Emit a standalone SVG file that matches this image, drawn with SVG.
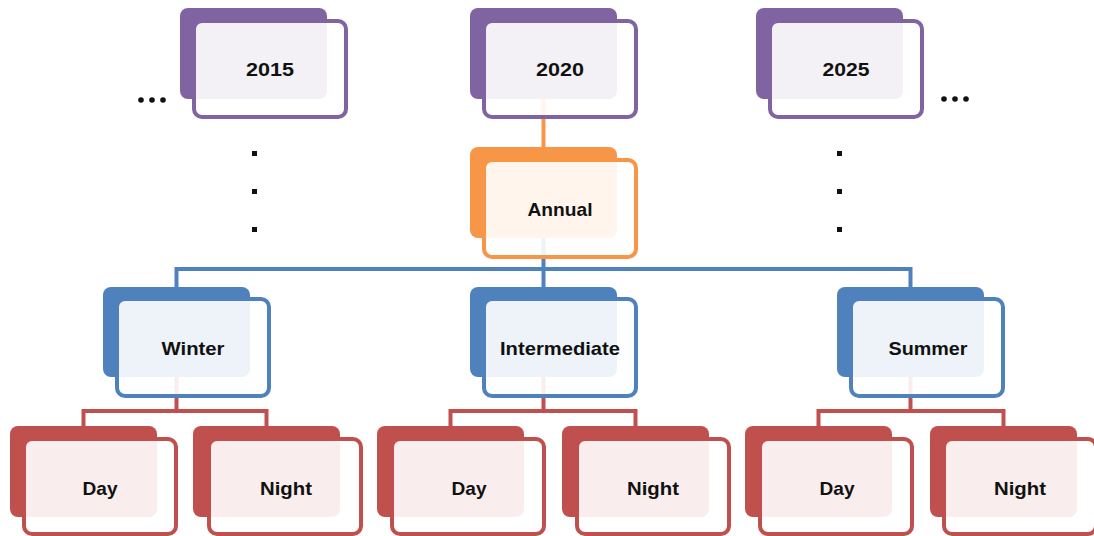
<svg xmlns="http://www.w3.org/2000/svg" width="1094" height="536" viewBox="0 0 1094 536">
<style>
.bk{stroke:none}
.fr{fill:#ffffff;fill-opacity:0.9;stroke-width:4}
.lbl{font-family:"Liberation Sans",Arial,sans-serif;font-weight:bold;font-size:19px;fill:#111111;text-anchor:middle}
.p .bk{fill:#8064a2}.p .fr{stroke:#8064a2}
.o .bk{fill:#f79646}.o .fr{stroke:#f79646}
.b .bk{fill:#4f81bd}.b .fr{stroke:#4f81bd}
.r .bk{fill:#c0504d}.r .fr{stroke:#c0504d}
.cn{fill:none;stroke-width:4}
.dot{fill:#111111}
</style>
<rect width="1094" height="536" fill="#ffffff"/>
<g id="connectors">
<path class="cn" stroke="#f79646" d="M543.5,53 V147"/>
<path class="cn" stroke="#4f81bd" d="M543.5,192 V269 M176.5,287 V269 H910.5 V287 M543.5,269 V287"/>
<path class="cn" stroke="#c0504d" d="M176.5,332 V411 M83.5,426 V411 H266.5 V426"/>
<path class="cn" stroke="#c0504d" d="M543.5,332 V411 M450.5,426 V411 H635.5 V426"/>
<path class="cn" stroke="#c0504d" d="M910.5,332 V411 M818.5,426 V411 H1003.5 V426"/>
</g>
<g id="n2015" class="p"><rect class="bk" x="180" y="8" width="147" height="91" rx="8"/><rect class="fr" x="194" y="21" width="152" height="96" rx="8"/><text class="lbl" x="270" y="76" textLength="48" lengthAdjust="spacingAndGlyphs">2015</text></g>
<g id="n2020" class="p"><rect class="bk" x="470" y="8" width="147" height="91" rx="8"/><rect class="fr" x="484" y="21" width="152" height="96" rx="8"/><text class="lbl" x="560" y="76" textLength="48" lengthAdjust="spacingAndGlyphs">2020</text></g>
<g id="n2025" class="p"><rect class="bk" x="756" y="8" width="147" height="91" rx="8"/><rect class="fr" x="770" y="21" width="152" height="96" rx="8"/><text class="lbl" x="846" y="76" textLength="47" lengthAdjust="spacingAndGlyphs">2025</text></g>
<g id="annual" class="o"><rect class="bk" x="470" y="147" width="147" height="91" rx="8"/><rect class="fr" x="484" y="160" width="152" height="97" rx="8"/><text class="lbl" x="560" y="216" textLength="65" lengthAdjust="spacingAndGlyphs">Annual</text></g>
<g id="winter" class="b"><rect class="bk" x="103" y="287" width="147" height="90" rx="8"/><rect class="fr" x="117" y="299" width="152" height="97" rx="8"/><text class="lbl" x="193" y="355" textLength="63" lengthAdjust="spacingAndGlyphs">Winter</text></g>
<g id="intermediate" class="b"><rect class="bk" x="470" y="287" width="147" height="90" rx="8"/><rect class="fr" x="484" y="299" width="152" height="97" rx="8"/><text class="lbl" x="560" y="355" textLength="120" lengthAdjust="spacingAndGlyphs">Intermediate</text></g>
<g id="summer" class="b"><rect class="bk" x="837" y="287" width="147" height="90" rx="8"/><rect class="fr" x="851" y="299" width="152" height="97" rx="8"/><text class="lbl" x="928" y="355" textLength="79" lengthAdjust="spacingAndGlyphs">Summer</text></g>
<g id="day1" class="r"><rect class="bk" x="10" y="426" width="147" height="91" rx="8"/><rect class="fr" x="24" y="439" width="152" height="95" rx="8"/><text class="lbl" x="100" y="495" textLength="35" lengthAdjust="spacingAndGlyphs">Day</text></g>
<g id="night1" class="r"><rect class="bk" x="193" y="426" width="147" height="91" rx="8"/><rect class="fr" x="209" y="439" width="152" height="95" rx="8"/><text class="lbl" x="286" y="495" textLength="52" lengthAdjust="spacingAndGlyphs">Night</text></g>
<g id="day2" class="r"><rect class="bk" x="377" y="426" width="147" height="91" rx="8"/><rect class="fr" x="392" y="439" width="152" height="95" rx="8"/><text class="lbl" x="469" y="495" textLength="35" lengthAdjust="spacingAndGlyphs">Day</text></g>
<g id="night2" class="r"><rect class="bk" x="562" y="426" width="147" height="91" rx="8"/><rect class="fr" x="577" y="439" width="152" height="95" rx="8"/><text class="lbl" x="653" y="495" textLength="52" lengthAdjust="spacingAndGlyphs">Night</text></g>
<g id="day3" class="r"><rect class="bk" x="745" y="426" width="147" height="91" rx="8"/><rect class="fr" x="760" y="439" width="152" height="95" rx="8"/><text class="lbl" x="837" y="495" textLength="35" lengthAdjust="spacingAndGlyphs">Day</text></g>
<g id="night3" class="r"><rect class="bk" x="930" y="426" width="147" height="91" rx="8"/><rect class="fr" x="944" y="439" width="152" height="95" rx="8"/><text class="lbl" x="1020" y="495" textLength="52" lengthAdjust="spacingAndGlyphs">Night</text></g>
<g id="ellipses">
<circle class="dot" cx="141" cy="100" r="2.8"/><circle class="dot" cx="152" cy="100" r="2.8"/><circle class="dot" cx="163" cy="100" r="2.8"/>
<circle class="dot" cx="944" cy="99" r="2.8"/><circle class="dot" cx="955" cy="99" r="2.8"/><circle class="dot" cx="966" cy="99" r="2.8"/>
<rect class="dot" x="252" y="151" width="5" height="5"/><rect class="dot" x="252" y="189" width="5" height="5"/><rect class="dot" x="252" y="227" width="5" height="5"/>
<rect class="dot" x="837" y="151" width="5" height="5"/><rect class="dot" x="837" y="189" width="5" height="5"/><rect class="dot" x="837" y="227" width="5" height="5"/>
</g>
</svg>
